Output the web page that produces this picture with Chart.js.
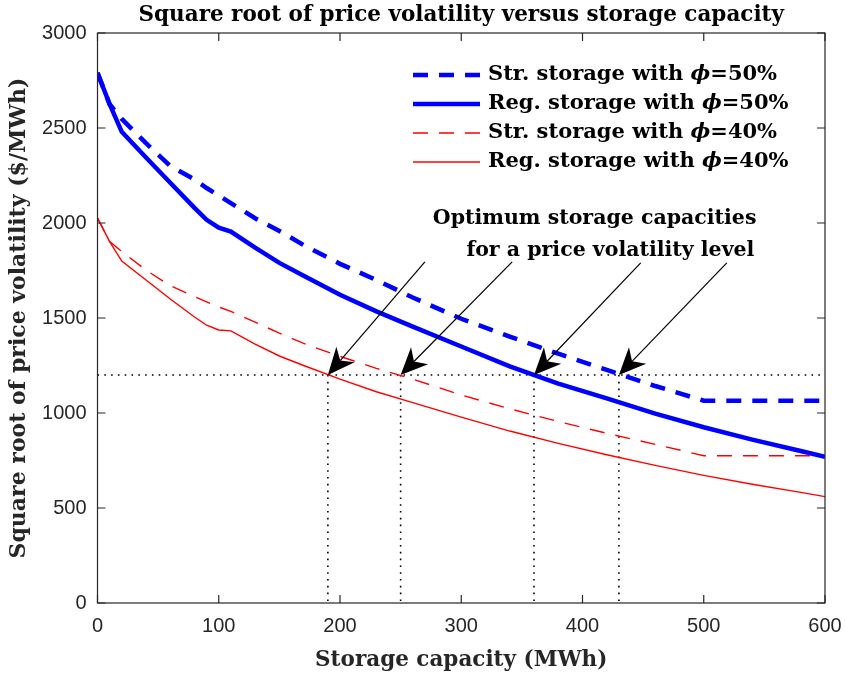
<!DOCTYPE html>
<html>
<head>
<meta charset="utf-8">
<script src="https://cdn.jsdelivr.net/npm/chart.js@4.4.1/dist/chart.umd.min.js"></script>
<style>
  html, body { margin: 0; padding: 0; background: #fff; }
</style>
</head>
<body>
<canvas id="chart" width="845" height="676"></canvas>
<script>
// values (MWh -> $/MWh)
const capacity      = [0, 10, 20, 40, 60, 80, 90, 100, 110, 130, 150, 170, 200, 230, 260, 300, 340, 380, 420, 460, 500, 540, 580, 600];
const strStorage50  = [2790, 2625, 2548, 2420, 2300, 2229, 2184, 2145, 2105, 2025, 1958, 1884, 1785, 1700, 1608, 1496, 1402, 1312, 1227, 1142, 1065, 1065, 1065, 1065];
const regStorage50  = [2790, 2625, 2480, 2345, 2212, 2080, 2017, 1975, 1955, 1870, 1790, 1722, 1622, 1535, 1455, 1350, 1245, 1155, 1077, 997, 925, 860, 800, 770];
const strStorage40  = [2026, 1902, 1850, 1752, 1670, 1613, 1585, 1558, 1535, 1478, 1420, 1366, 1298, 1235, 1178, 1095, 1022, 955, 893, 835, 775, 775, 775, 775];
const regStorage40  = [2026, 1902, 1800, 1700, 1600, 1505, 1462, 1437, 1432, 1363, 1300, 1250, 1178, 1112, 1055, 978, 905, 840, 780, 724, 672, 625, 582, 560];

const xTicks = [0, 100, 200, 300, 400, 500, 600];
const yTicks = [0, 500, 1000, 1500, 2000, 2500, 3000];

// annotation: volatility level and the capacities that reach it
const volatilityLevel   = 1200;
const optimumCapacities = [190, 250, 360, 430];
const arrowTailX        = [270, 342, 448, 519];
const arrowTailY        = [1795, 1795, 1790, 1790];
const noteLines = ['Optimum storage capacities', 'for a price volatility level'];
const noteX     = [410, 423];
const noteY     = [2021, 1853];

const chartTitle = 'Square root of price volatility versus storage capacity';

const toPoints = vals => capacity.map((c, i) => ({ x: c, y: vals[i] }));

const serifBold = '"DejaVu Serif", "Liberation Serif", serif';
const tickFont = { family: '"Liberation Sans", Arial, sans-serif', size: 20 };
const tickColor = '#262626';

// title centred over the axes box (MATLAB style), not over the canvas
const axesTitle = {
  id: 'axesTitle',
  afterDraw(chart) {
    const { ctx, chartArea: a } = chart;
    ctx.save();
    ctx.font = 'bold 21.5px ' + serifBold;
    ctx.fillStyle = '#000';
    ctx.textAlign = 'center';
    ctx.textBaseline = 'middle';
    ctx.fillText(chartTitle, (a.left + a.right) / 2, a.top - 18);
    ctx.restore();
  }
};

// box + inward ticks on all four sides, like a MATLAB axes
const boxAxes = {
  id: 'boxAxes',
  afterDraw(chart) {
    const { ctx, chartArea: a, scales: { x, y } } = chart;
    const tl = 8;
    ctx.save();
    ctx.strokeStyle = tickColor;
    ctx.lineWidth = 1.2;
    ctx.setLineDash([]);
    ctx.strokeRect(a.left, a.top, a.right - a.left, a.bottom - a.top);
    ctx.beginPath();
    x.ticks.forEach(t => {
      const px = x.getPixelForValue(t.value);
      ctx.moveTo(px, a.bottom); ctx.lineTo(px, a.bottom - tl);
      ctx.moveTo(px, a.top); ctx.lineTo(px, a.top + tl);
    });
    y.ticks.forEach(t => {
      const py = y.getPixelForValue(t.value);
      ctx.moveTo(a.left, py); ctx.lineTo(a.left + tl, py);
      ctx.moveTo(a.right, py); ctx.lineTo(a.right - tl, py);
    });
    ctx.stroke();
    ctx.restore();
  }
};

// dotted guide lines at the volatility level
const guides = {
  id: 'guides',
  beforeDatasetsDraw(chart) {
    const { ctx, chartArea: a, scales: { x, y } } = chart;
    const yl = y.getPixelForValue(volatilityLevel);
    ctx.save();
    ctx.strokeStyle = '#000';
    ctx.lineWidth = 1.6;
    ctx.setLineDash([1.6, 5.2]);
    ctx.beginPath();
    ctx.moveTo(a.left, yl); ctx.lineTo(a.right, yl);
    optimumCapacities.forEach(c => {
      const px = x.getPixelForValue(c);
      ctx.moveTo(px, yl); ctx.lineTo(px, a.bottom);
    });
    ctx.stroke();
    ctx.restore();
  }
};

// arrows + note text
const notes = {
  id: 'notes',
  afterDatasetsDraw(chart) {
    const { ctx, scales: { x, y } } = chart;
    ctx.save();
    ctx.strokeStyle = '#000';
    ctx.fillStyle = '#000';
    ctx.lineWidth = 1.2;
    ctx.setLineDash([]);
    optimumCapacities.forEach((c, i) => {
      const tx = x.getPixelForValue(c), ty = y.getPixelForValue(volatilityLevel);
      const sx = x.getPixelForValue(arrowTailX[i]), sy = y.getPixelForValue(arrowTailY[i]);
      const ang = Math.atan2(ty - sy, tx - sx);
      const len = 27, half = 12, notch = 8;
      const ux = Math.cos(ang), uy = Math.sin(ang);
      const bx = tx - ux * len, by = ty - uy * len;
      ctx.beginPath();
      ctx.moveTo(sx, sy);
      ctx.lineTo(bx + ux * notch, by + uy * notch);
      ctx.stroke();
      ctx.beginPath();
      ctx.moveTo(tx, ty);
      ctx.lineTo(bx - uy * half, by + ux * half);
      ctx.lineTo(bx + ux * notch, by + uy * notch);
      ctx.lineTo(bx + uy * half, by - ux * half);
      ctx.closePath();
      ctx.fill();
    });
    ctx.font = 'bold 20.5px ' + serifBold;
    ctx.textAlign = 'center';
    ctx.textBaseline = 'middle';
    noteLines.forEach((t, i) => {
      ctx.fillText(t, x.getPixelForValue(noteX[i]), y.getPixelForValue(noteY[i]));
    });
    ctx.restore();
  }
};

// legend inside the axes, top right, no box
const insideLegend = {
  id: 'insideLegend',
  afterDatasetsDraw(chart, args, opts) {
    const { ctx } = chart;
    const size = opts.fontSize;
    ctx.save();
    ctx.textBaseline = 'middle';
    ctx.textAlign = 'left';
    chart.data.datasets.forEach((ds, i) => {
      const cy = opts.top + i * opts.rowHeight;
      ctx.strokeStyle = ds.borderColor;
      ctx.lineWidth = ds.borderWidth;
      ctx.setLineDash(ds.borderDash || []);
      ctx.beginPath();
      ctx.moveTo(opts.left, cy);
      ctx.lineTo(opts.left + opts.lineLength, cy);
      ctx.stroke();
      ctx.fillStyle = '#000';
      let tx = opts.left + opts.lineLength + opts.gap;
      const parts = ds.label.split('ϕ');
      ctx.font = `bold ${size}px ${serifBold}`;
      ctx.fillText(parts[0], tx, cy);
      tx += ctx.measureText(parts[0]).width;
      ctx.font = `italic bold ${size}px ${serifBold}`;
      ctx.fillText('ϕ', tx, cy);
      tx += ctx.measureText('ϕ').width;
      ctx.font = `bold ${size}px ${serifBold}`;
      ctx.fillText(parts[1], tx, cy);
    });
    ctx.restore();
  }
};

new Chart(document.getElementById('chart').getContext('2d'), {
  type: 'line',
  data: {
    datasets: [
      { label: 'Str. storage with ϕ=50%', data: toPoints(strStorage50), borderColor: '#0000ff', borderWidth: 4.5, borderDash: [15, 11] },
      { label: 'Reg. storage with ϕ=50%', data: toPoints(regStorage50), borderColor: '#0000ff', borderWidth: 4.5 },
      { label: 'Str. storage with ϕ=40%', data: toPoints(strStorage40), borderColor: '#ff0000', borderWidth: 1.4, borderDash: [15, 11] },
      { label: 'Reg. storage with ϕ=40%', data: toPoints(regStorage40), borderColor: '#ff0000', borderWidth: 1.4 }
    ]
  },
  options: {
    responsive: false,
    animation: false,
    elements: { point: { radius: 0 }, line: { tension: 0, fill: false } },
    layout: { padding: { top: 33, right: 20, left: 0, bottom: 0 } },
    plugins: {
      legend: { display: false },
      tooltip: { enabled: false },
      title: { display: false },
      insideLegend: { left: 413, top: 75, rowHeight: 29, lineLength: 67, gap: 8, fontSize: 21 }
    },
    scales: {
      x: {
        type: 'linear', min: 0, max: 600,
        afterBuildTicks: s => { s.ticks = xTicks.map(v => ({ value: v })); },
        afterFit: s => { s.height = 73; s.paddingLeft = 0; s.paddingRight = 0; },
        grid: { display: false, drawTicks: false },
        border: { display: false },
        ticks: { font: tickFont, color: tickColor, padding: 11, maxRotation: 0, callback: v => String(v) },
        title: { display: true, text: 'Storage capacity (MWh)', font: { family: serifBold, size: 21.5, weight: 'bold' }, color: '#262626', padding: { top: 0, bottom: 3 } }
      },
      y: {
        type: 'linear', min: 0, max: 3000,
        afterBuildTicks: s => { s.ticks = yTicks.map(v => ({ value: v })); },
        afterFit: s => { s.width = 97.5; s.paddingTop = 0; s.paddingBottom = 0; },
        grid: { display: false, drawTicks: false },
        border: { display: false },
        ticks: { font: tickFont, color: tickColor, padding: 11, callback: v => String(v) },
        title: { display: true, text: 'Square root of price volatility ($/MWh)', font: { family: serifBold, size: 22, weight: 'bold' }, color: '#262626', padding: 6 }
      }
    }
  },
  plugins: [guides, notes, insideLegend, boxAxes, axesTitle]
});
</script>
</body>
</html>
